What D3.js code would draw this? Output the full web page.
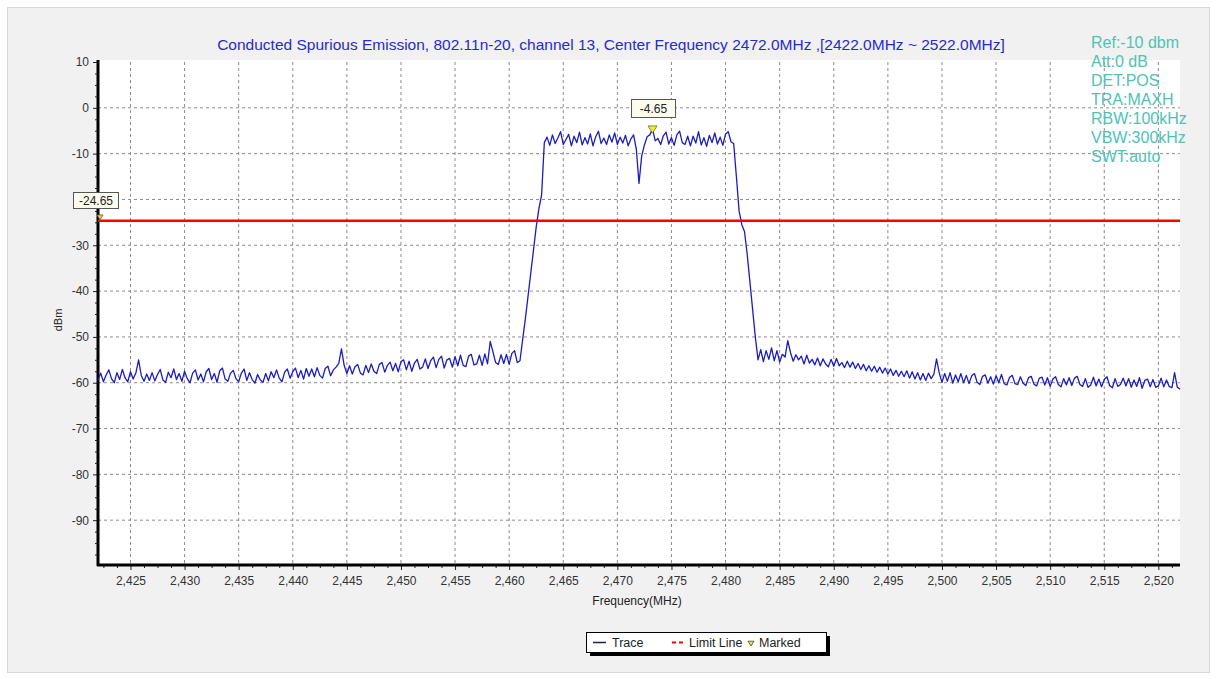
<!DOCTYPE html>
<html>
<head>
<meta charset="utf-8">
<script src="https://cdn.jsdelivr.net/npm/d3@7"></script>
<style>
  html, body { margin: 0; padding: 0; background: #ffffff; }
  svg { display: block; font-family: "Liberation Sans", Arial, sans-serif; }
</style>
</head>
<body>
<svg id="chart" width="1216" height="679"></svg>
<script>
// ---------------- data ----------------
const chartTitle = "Conducted Spurious Emission, 802.11n-20, channel 13, Center Frequency 2472.0MHz ,[2422.0MHz ~ 2522.0MHz]";
const settingsText = ["Ref:-10 dbm", "Att:0 dB", "DET:POS", "TRA:MAXH", "RBW:100kHz", "VBW:300kHz", "SWT:auto"];
const xTickValues = [2425, 2430, 2435, 2440, 2445, 2450, 2455, 2460, 2465, 2470, 2475, 2480, 2485, 2490, 2495, 2500, 2505, 2510, 2515, 2520];
const yTickValues = [10, 0, -10, -20, -30, -40, -50, -60, -70, -80, -90];
const yHiddenLabels = [-20]; // covered by the limit-marker box in the reference
const limitLineDbm = -24.65;
const peakMarker = { freq: 2473.25, dbm: -4.65 };
const limitMarker = { freq: 2422.0, dbm: -24.65 };
const legendItems = ["Trace", "Limit Line", "Marked"];

const freqMHz = [
2422,2422.25,2422.5,2422.75,2423,2423.25,2423.5,2423.75,2424,2424.25,
2424.5,2424.75,2425,2425.25,2425.5,2425.75,2426,2426.25,2426.5,2426.75,
2427,2427.25,2427.5,2427.75,2428,2428.25,2428.5,2428.75,2429,2429.25,
2429.5,2429.75,2430,2430.25,2430.5,2430.75,2431,2431.25,2431.5,2431.75,
2432,2432.25,2432.5,2432.75,2433,2433.25,2433.5,2433.75,2434,2434.25,
2434.5,2434.75,2435,2435.25,2435.5,2435.75,2436,2436.25,2436.5,2436.75,
2437,2437.25,2437.5,2437.75,2438,2438.25,2438.5,2438.75,2439,2439.25,
2439.5,2439.75,2440,2440.25,2440.5,2440.75,2441,2441.25,2441.5,2441.75,
2442,2442.25,2442.5,2442.75,2443,2443.25,2443.5,2443.75,2444,2444.25,
2444.5,2444.75,2445,2445.25,2445.5,2445.75,2446,2446.25,2446.5,2446.75,
2447,2447.25,2447.5,2447.75,2448,2448.25,2448.5,2448.75,2449,2449.25,
2449.5,2449.75,2450,2450.25,2450.5,2450.75,2451,2451.25,2451.5,2451.75,
2452,2452.25,2452.5,2452.75,2453,2453.25,2453.5,2453.75,2454,2454.25,
2454.5,2454.75,2455,2455.25,2455.5,2455.75,2456,2456.25,2456.5,2456.75,
2457,2457.25,2457.5,2457.75,2458,2458.25,2458.5,2458.75,2459,2459.25,
2459.5,2459.75,2460,2460.25,2460.5,2460.75,2461,2461.25,2461.5,2461.75,
2462,2462.25,2462.5,2462.75,2463,2463.25,2463.5,2463.75,2464,2464.25,
2464.5,2464.75,2465,2465.25,2465.5,2465.75,2466,2466.25,2466.5,2466.75,
2467,2467.25,2467.5,2467.75,2468,2468.25,2468.5,2468.75,2469,2469.25,
2469.5,2469.75,2470,2470.25,2470.5,2470.75,2471,2471.25,2471.5,2471.75,
2472,2472.25,2472.5,2472.75,2473,2473.25,2473.5,2473.75,2474,2474.25,
2474.5,2474.75,2475,2475.25,2475.5,2475.75,2476,2476.25,2476.5,2476.75,
2477,2477.25,2477.5,2477.75,2478,2478.25,2478.5,2478.75,2479,2479.25,
2479.5,2479.75,2480,2480.25,2480.5,2480.75,2481,2481.25,2481.5,2481.75,
2482,2482.25,2482.5,2482.75,2483,2483.25,2483.5,2483.75,2484,2484.25,
2484.5,2484.75,2485,2485.25,2485.5,2485.75,2486,2486.25,2486.5,2486.75,
2487,2487.25,2487.5,2487.75,2488,2488.25,2488.5,2488.75,2489,2489.25,
2489.5,2489.75,2490,2490.25,2490.5,2490.75,2491,2491.25,2491.5,2491.75,
2492,2492.25,2492.5,2492.75,2493,2493.25,2493.5,2493.75,2494,2494.25,
2494.5,2494.75,2495,2495.25,2495.5,2495.75,2496,2496.25,2496.5,2496.75,
2497,2497.25,2497.5,2497.75,2498,2498.25,2498.5,2498.75,2499,2499.25,
2499.5,2499.75,2500,2500.25,2500.5,2500.75,2501,2501.25,2501.5,2501.75,
2502,2502.25,2502.5,2502.75,2503,2503.25,2503.5,2503.75,2504,2504.25,
2504.5,2504.75,2505,2505.25,2505.5,2505.75,2506,2506.25,2506.5,2506.75,
2507,2507.25,2507.5,2507.75,2508,2508.25,2508.5,2508.75,2509,2509.25,
2509.5,2509.75,2510,2510.25,2510.5,2510.75,2511,2511.25,2511.5,2511.75,
2512,2512.25,2512.5,2512.75,2513,2513.25,2513.5,2513.75,2514,2514.25,
2514.5,2514.75,2515,2515.25,2515.5,2515.75,2516,2516.25,2516.5,2516.75,
2517,2517.25,2517.5,2517.75,2518,2518.25,2518.5,2518.75,2519,2519.25,
2519.5,2519.75,2520,2520.25,2520.5,2520.75,2521,2521.25,2521.5,2521.75,
2522
];

const powerDbm = [
-59.4,-57.9,-59.8,-58.3,-57.2,-59.1,-60.0,-57.8,-59.3,-57.1,
-58.9,-59.8,-57.6,-59.2,-57.9,-55.0,-58.4,-59.7,-58.1,-59.5,
-57.8,-59.6,-58.2,-57.1,-59.4,-59.9,-57.7,-58.9,-57.0,-59.3,
-58.0,-59.7,-57.5,-59.1,-60.0,-57.9,-57.2,-59.4,-58.1,-59.8,
-57.6,-56.9,-59.3,-58.0,-59.9,-57.4,-56.8,-59.2,-59.7,-57.9,
-57.3,-59.1,-59.8,-57.9,-57.0,-59.5,-57.8,-59.3,-60.1,-58.2,
-59.4,-59.9,-58.0,-59.6,-57.6,-58.9,-57.2,-59.0,-59.8,-57.7,
-57.0,-59.0,-57.6,-56.8,-58.9,-57.3,-59.2,-56.9,-58.6,-57.0,
-58.7,-56.7,-58.4,-59.0,-56.9,-56.4,-58.5,-57.2,-56.6,-55.8,
-52.6,-56.2,-58.0,-56.3,-58.1,-56.5,-56.0,-57.9,-58.3,-56.2,
-57.8,-55.9,-57.5,-58.0,-56.0,-55.6,-57.7,-56.2,-55.5,-57.4,
-55.8,-57.6,-55.4,-55.0,-57.2,-55.3,-57.5,-55.7,-54.9,-57.0,
-56.6,-54.8,-56.9,-55.2,-54.4,-56.7,-54.9,-54.2,-56.8,-55.0,
-54.7,-56.6,-54.3,-56.3,-54.0,-56.2,-56.5,-54.2,-53.8,-56.1,
-55.9,-54.0,-56.2,-53.7,-55.9,-51.0,-53.2,-55.6,-56.0,-53.9,
-55.8,-53.8,-56.0,-53.6,-53.0,-55.6,-55.2,-50.5,-46.0,-41.0,
-36.0,-31.0,-26.0,-22.0,-19.0,-7.6,-6.4,-8.2,-5.9,-7.8,
-6.6,-5.2,-8.0,-6.9,-5.8,-8.3,-6.2,-7.6,-5.3,-8.1,
-6.5,-7.9,-5.7,-8.3,-6.3,-5.1,-7.8,-6.6,-8.0,-5.9,
-7.5,-5.5,-8.0,-6.4,-7.7,-6.0,-8.3,-6.8,-5.9,-9.0,
-16.5,-10.5,-8.1,-6.3,-5.9,-4.65,-7.2,-6.7,-8.0,-6.1,
-5.3,-7.9,-6.5,-8.2,-5.9,-5.1,-7.6,-8.0,-6.2,-8.3,
-6.2,-7.7,-5.2,-8.1,-6.5,-8.4,-6.0,-7.6,-5.5,-7.9,
-6.4,-8.2,-5.7,-5.2,-7.4,-7.8,-15.0,-22.5,-25.5,-27.0,
-32.0,-38.0,-44.0,-50.0,-55.0,-52.8,-55.4,-53.0,-54.9,-52.4,
-55.2,-53.0,-55.5,-53.8,-54.4,-50.8,-53.4,-55.3,-53.9,-55.0,
-54.2,-55.9,-54.0,-55.7,-54.9,-56.1,-54.6,-56.3,-54.8,-55.9,
-56.5,-54.9,-56.4,-54.7,-56.3,-55.6,-56.7,-55.3,-56.6,-55.5,
-56.9,-55.8,-57.1,-56.0,-57.4,-56.3,-57.5,-56.4,-57.7,-56.6,
-57.9,-56.8,-58.1,-57.0,-58.4,-57.3,-58.6,-57.5,-58.7,-57.4,
-59.0,-57.6,-59.2,-57.8,-59.4,-58.0,-59.5,-57.9,-59.1,-58.2,
-54.8,-57.9,-59.9,-58.0,-59.7,-57.8,-60.1,-58.3,-59.8,-58.0,
-60.0,-58.4,-60.2,-58.5,-58.0,-59.9,-60.4,-58.6,-58.3,-60.1,
-58.7,-60.3,-58.5,-60.0,-58.2,-60.2,-60.5,-58.8,-58.4,-60.2,
-60.4,-58.7,-60.1,-60.6,-58.9,-58.6,-60.3,-60.7,-59.0,-58.8,
-60.5,-58.9,-60.8,-59.2,-58.7,-60.4,-60.9,-59.1,-60.5,-58.9,
-60.6,-59.0,-58.6,-60.4,-60.8,-59.1,-61.0,-60.5,-58.8,-60.7,
-59.2,-60.9,-59.3,-58.7,-60.6,-61.1,-59.1,-60.8,-60.4,-59.0,
-60.7,-59.1,-61.0,-59.4,-60.8,-58.9,-61.2,-59.5,-59.2,-60.9,
-59.3,-61.0,-60.7,-59.0,-60.9,-59.4,-60.8,-61.1,-57.8,-61.0,
-61.4
];

// ---------------- layout ----------------
const svg = d3.select("#chart");
const W = 1216, H = 679;
const plot = { left: 98, right: 1180, top: 60, bottom: 565 };

const x = d3.scaleLinear().domain([2422, 2522]).range([plot.left, plot.right]);
const y = d3.scaleLinear().domain([-100, 10]).range([566, 62]);

const locale = d3.formatLocale({ decimal: ".", thousands: ",", grouping: [3], currency: ["", ""], minus: "-" });
const fmtX = locale.format(",");
const fmtY = locale.format("d");
const fmtM = locale.format(".2f");

// panel background
svg.append("rect").attr("x", 0).attr("y", 0).attr("width", W).attr("height", H).attr("fill", "#ffffff");
svg.append("rect").attr("x", 7.5).attr("y", 7.5).attr("width", W - 14).attr("height", H - 14)
  .attr("fill", "#f1f1f1").attr("stroke", "#d8d8d8");
svg.append("rect").attr("x", plot.left).attr("y", plot.top)
  .attr("width", plot.right - plot.left).attr("height", plot.bottom - plot.top).attr("fill", "#ffffff");

// grid
const grid = svg.append("g");
grid.selectAll("line.vg").data(xTickValues).join("line")
  .attr("x1", d => x(d)).attr("x2", d => x(d))
  .attr("y1", y(10)).attr("y2", plot.bottom)
  .attr("stroke", "#8c8c8c").attr("stroke-width", 1).attr("stroke-dasharray", "3,3");
grid.selectAll("line.hg").data(yTickValues.filter(d => d < 10)).join("line")
  .attr("x1", plot.left).attr("x2", plot.right)
  .attr("y1", d => y(d)).attr("y2", d => y(d))
  .attr("stroke", "#8c8c8c").attr("stroke-width", 1).attr("stroke-dasharray", "3,3");

// axes
const xAxis = d3.axisBottom(x).tickValues(xTickValues).tickFormat(fmtX).tickSize(5).tickPadding(6);
const xMinor = d3.axisBottom(x).tickValues(d3.range(2422.5, 2522, 1.25).filter(v => Math.abs((v - 2425) % 5) > 0.01)).tickFormat("").tickSize(3);
const yAxis = d3.axisLeft(y).tickValues(yTickValues)
  .tickFormat(d => yHiddenLabels.includes(d) ? "" : fmtY(d)).tickSize(5).tickPadding(4);
const yMinor = d3.axisLeft(y).tickValues(d3.range(-97.5, 10, 2.5).filter(v => Math.abs(v % 10) > 0.01)).tickFormat("").tickSize(3);

function styleAxis(g) {
  g.select(".domain").remove();
  g.selectAll(".tick line").attr("stroke", "#222");
  g.selectAll(".tick text").attr("fill", "#333").style("font-size", "12px")
    .style("font-family", "'Liberation Sans', Arial, sans-serif");
}
svg.append("g").attr("transform", `translate(0,${plot.bottom})`).call(xMinor).call(styleAxis);
svg.append("g").attr("transform", `translate(0,${plot.bottom})`).call(xAxis).call(styleAxis);
svg.append("g").attr("transform", `translate(${plot.left},0)`).call(yMinor).call(styleAxis);
svg.append("g").attr("transform", `translate(${plot.left},0)`).call(yAxis).call(styleAxis);

// axis lines (thick)
svg.append("line").attr("x1", plot.left).attr("x2", plot.left).attr("y1", plot.top).attr("y2", plot.bottom + 1)
  .attr("stroke", "#000").attr("stroke-width", 3);
svg.append("line").attr("x1", plot.left - 1).attr("x2", plot.right).attr("y1", plot.bottom).attr("y2", plot.bottom)
  .attr("stroke", "#000").attr("stroke-width", 3);

// axis titles
svg.append("text").attr("x", (plot.left + plot.right) / 2 - 2).attr("y", 605).attr("text-anchor", "middle")
  .attr("fill", "#222").style("font-size", "12px").text("Frequency(MHz)");
svg.append("text").attr("transform", "translate(62,320) rotate(-90)").attr("text-anchor", "middle")
  .attr("fill", "#222").style("font-size", "11px").text("dBm");

// title
svg.append("text").attr("x", 611).attr("y", 50).attr("text-anchor", "middle")
  .attr("fill", "#2a2ac8").style("font-size", "15.5px").text(chartTitle);

// trace
const traceData = freqMHz.map((f, i) => ({ f, v: powerDbm[i] }));
svg.append("path").datum(traceData)
  .attr("fill", "none").attr("stroke", "#1c1cc0").attr("stroke-width", 1.3)
  .attr("stroke-linejoin", "round")
  .attr("d", d3.line().x(d => x(d.f)).y(d => y(d.v)));

// limit line
svg.append("line").attr("x1", plot.left).attr("x2", plot.right)
  .attr("y1", y(limitLineDbm)).attr("y2", y(limitLineDbm))
  .attr("stroke", "#ff0000").attr("stroke-width", 2.5);

// settings text
svg.append("g").selectAll("text").data(settingsText).join("text")
  .attr("x", 1091).attr("y", (d, i) => 48 + i * 19)
  .attr("fill", "#4ec3b5").style("font-size", "16px").text(d => d);

// markers
function markerTri(cx, tipY, size) {
  return `M${cx - size},${tipY - size * 1.6} L${cx + size},${tipY - size * 1.6} L${cx},${tipY} Z`;
}
// peak marker
const pmx = x(peakMarker.freq), pmy = y(peakMarker.dbm);
svg.append("path").attr("d", markerTri(pmx, pmy + 4, 4.5))
  .attr("fill", "#f2f020").attr("stroke", "#6b6b20").attr("stroke-width", 0.8);
svg.append("rect").attr("x", pmx - 21).attr("y", 99.5).attr("width", 44).attr("height", 18)
  .attr("fill", "#fcfcee").attr("stroke", "#555").attr("stroke-width", 1);
svg.append("text").attr("x", pmx + 1).attr("y", 113).attr("text-anchor", "middle")
  .attr("fill", "#222").style("font-size", "12px").text(fmtM(peakMarker.dbm));

// limit marker (left)
const lmx = x(limitMarker.freq), lmy = y(limitMarker.dbm);
svg.append("path").attr("d", markerTri(lmx + 2, lmy - 1, 3))
  .attr("fill", "#f2d040").attr("stroke", "#6b5b20").attr("stroke-width", 0.8);
svg.append("rect").attr("x", 73.5).attr("y", 192.5).attr("width", 45).attr("height", 16)
  .attr("fill", "#fcfcee").attr("stroke", "#555").attr("stroke-width", 1);
svg.append("text").attr("x", 96).attr("y", 205).attr("text-anchor", "middle")
  .attr("fill", "#222").style("font-size", "12px").text(fmtM(limitMarker.dbm));

// legend
const lg = svg.append("g");
lg.append("rect").attr("x", 590).attr("y", 636).attr("width", 240).attr("height", 20).attr("fill", "#000");
lg.append("rect").attr("x", 586.5).attr("y", 632.5).attr("width", 240).attr("height", 20)
  .attr("fill", "#ffffff").attr("stroke", "#000").attr("stroke-width", 1);
lg.append("line").attr("x1", 593).attr("x2", 606).attr("y1", 642.5).attr("y2", 642.5).attr("stroke", "#1e1e50").attr("stroke-width", 1.5);
lg.append("text").attr("x", 612).attr("y", 647).attr("fill", "#222").style("font-size", "12.5px").text(legendItems[0]);
lg.append("line").attr("x1", 672).attr("x2", 686).attr("y1", 642.5).attr("y2", 642.5).attr("stroke", "#ff0000")
  .attr("stroke-width", 2).attr("stroke-dasharray", "4,3");
lg.append("text").attr("x", 689).attr("y", 647).attr("fill", "#222").style("font-size", "12.5px").text(legendItems[1]);
lg.append("path").attr("d", markerTri(751, 646, 3)).attr("fill", "#e8e830").attr("stroke", "#444").attr("stroke-width", 0.8);
lg.append("text").attr("x", 759).attr("y", 647).attr("fill", "#222").style("font-size", "12.5px").text(legendItems[2]);
</script>
</body>
</html>
